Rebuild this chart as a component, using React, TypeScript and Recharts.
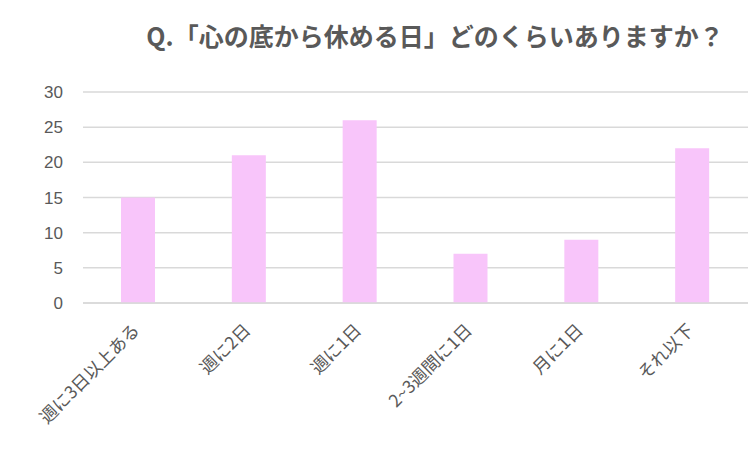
import React from 'react'
import { BarChart, Bar, XAxis, YAxis, CartesianGrid } from 'recharts'

const categories = ['週に3日以上ある', '週に2日', '週に1日', '2~3週間に1日', '月に1日', 'それ以下']
const counts = [15, 21, 26, 7, 9, 22]
const yTicks = [0, 5, 10, 15, 20, 25, 30]

const data = categories.map((name, i) => ({ name, value: counts[i] }))

const FONT = '"Noto Sans CJK JP", "Noto Sans", sans-serif'
const GRAY = '#595959'

function SlantTick(props: any) {
    const { x, payload } = props
    return (
        <g transform={`translate(${x - 2},${327}) rotate(-45)`}>
            <text x={0} y={0} dy="0.35em" textAnchor="end" fill={GRAY} fontSize={17.5} fontWeight={400} fontFamily={FONT}>
                {payload.value}
            </text>
        </g>
    )
}

export default function App() {
    return (
        <div style={{ position: 'fixed', left: 0, top: 0, width: 750, height: 449, background: '#fff' }}>
            <div
                style={{
                    position: 'absolute',
                    left: 0,
                    width: 750,
                    top: 17,
                    paddingLeft: 120,
                    boxSizing: 'border-box',
                    textAlign: 'center',
                    fontFamily: FONT,
                    fontSize: 25,
                    fontWeight: 700,
                    color: GRAY,
                    whiteSpace: 'nowrap',
                }}
            >
                Q.「心の底から休める日」どのくらいありますか？
            </div>
            <BarChart width={750} height={449} data={data} margin={{ top: 92, right: 2, bottom: 0, left: 0 }}>
                <CartesianGrid vertical={false} stroke="#d9d9d9" strokeWidth={1.5} />
                <XAxis
                    dataKey="name"
                    height={146}
                    axisLine={{ stroke: '#d9d9d9', strokeWidth: 1.5 }}
                    tickLine={false}
                    interval={0}
                    tick={<SlantTick />}
                />
                <YAxis
                    width={83}
                    domain={[0, 30]}
                    ticks={yTicks}
                    axisLine={false}
                    tickLine={false}
                    tickMargin={14}
                    tick={{ fill: GRAY, fontSize: 17, fontFamily: '"Liberation Sans", Arial, sans-serif' }}
                />
                <Bar dataKey="value" fill="#f8c5fa" barSize={34} isAnimationActive={false} />
            </BarChart>
        </div>
    )
}
